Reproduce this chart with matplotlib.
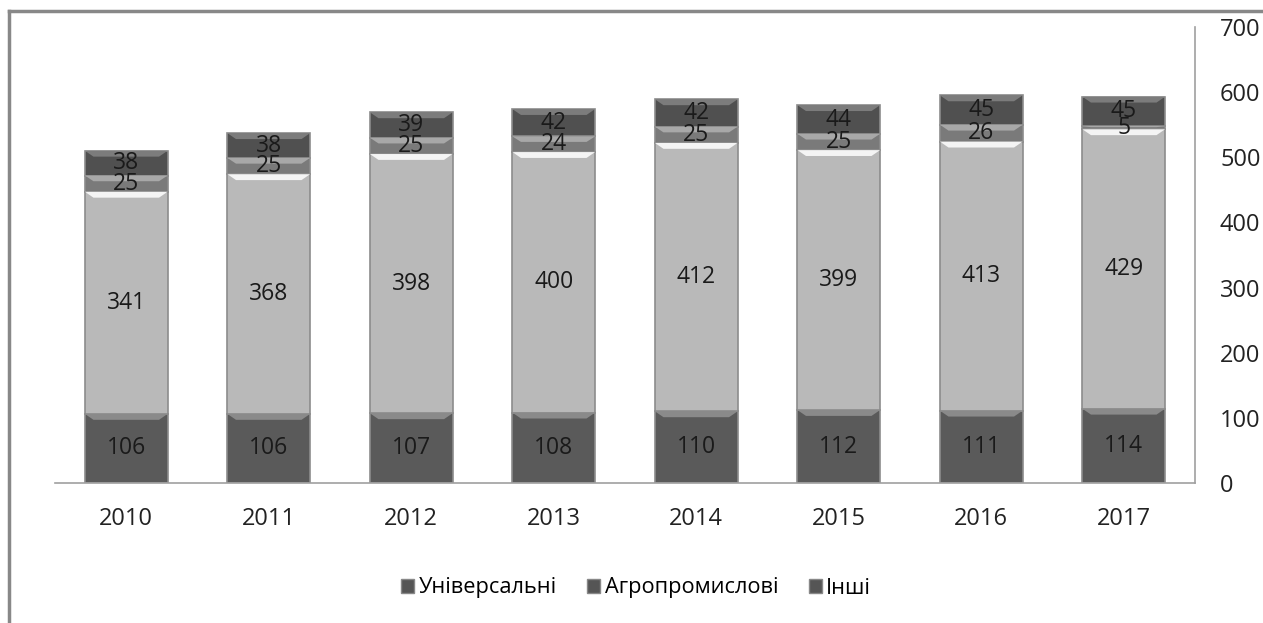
import numpy as np
import matplotlib
matplotlib.use('Agg')
import matplotlib.pyplot as plt
from matplotlib.patches import Patch, Polygon

plt.rcParams['font.family'] = ['Open Sans', 'DejaVu Sans']

# data
years = ['2010', '2011', '2012', '2013', '2014', '2015', '2016', '2017']
universal = [106, 106, 107, 108, 110, 112, 111, 114]
agro = [341, 368, 398, 400, 412, 399, 413, 429]
middle = [25, 25, 25, 24, 25, 25, 26, 5]
other = [38, 38, 39, 42, 42, 44, 45, 45]
legend_labels = ['Універсальні', 'Агропромислові', 'Інші']

series = [universal, agro, middle, other]
colors = ['#5a5a5a', '#b9b9b9', '#7a7a7a', '#505050']
bevel = ['#8a8a8a', '#f4f4f4', '#a8a8a8', '#7c7c7c']

fig = plt.figure(figsize=(12.63, 6.23), dpi=100)
ax = fig.add_axes([55/1263, 1-483/623, (1195-55)/1263, (483-27)/623])

x = np.arange(len(years))
width = 0.58
bottom = np.zeros(len(years))
for vals, col, bev in zip(series, colors, bevel):
    vals = np.array(vals, dtype=float)
    ax.bar(x, vals, width, bottom=bottom, color=col, edgecolor='#8c8c8c', linewidth=1.2, zorder=2)
    # bevel highlight along the top of each segment
    for xi, b, v in zip(x, bottom, vals):
        h = min(9.0, v * 0.35)
        inset = 0.06
        poly = Polygon([(xi - width/2, b + v), (xi + width/2, b + v),
                        (xi + width/2 - inset, b + v - h), (xi - width/2 + inset, b + v - h)],
                       closed=True, facecolor=bev, edgecolor='none', zorder=3)
        ax.add_patch(poly)
        ax.text(xi, b + v/2, str(int(v)), ha='center', va='center', fontsize=16.5, color='#1a1a1a', zorder=4)
    bottom += vals

ax.set_xlim(-0.5, len(years) - 0.5)
ax.set_ylim(0, 700)
ax.set_xticks(x)
ax.set_xticklabels(years, fontsize=17, color='#222222')
ax.set_yticks(range(0, 701, 100))
ax.yaxis.tick_right()
ax.tick_params(axis='y', labelsize=17, labelcolor='#222222', length=0, pad=18)
ax.tick_params(axis='x', length=0, pad=17)

for s in ['top', 'left']:
    ax.spines[s].set_visible(False)
ax.spines['bottom'].set_color('#a0a0a0')
ax.spines['right'].set_color('#a0a0a0')
ax.spines['bottom'].set_linewidth(1.2)
ax.spines['right'].set_linewidth(1.2)

handles = [Patch(facecolor='#555555', edgecolor='#888888') for _ in legend_labels]
fig.legend(handles, legend_labels, loc='center', bbox_to_anchor=(636/1263, 1-588/623), ncol=3,
           frameon=False, fontsize=15.7, handlelength=0.6, handleheight=0.6, handletextpad=0.2,
           columnspacing=1.4)

# outer chart border (left and top visible)
fig.add_artist(plt.Line2D([8.5/1263, 8.5/1263], [0, 1-11/623], color='#888888', linewidth=2.5))
fig.add_artist(plt.Line2D([8.5/1263, 1], [1-11/623, 1-11/623], color='#888888', linewidth=2.5))

fig.savefig('out.png', dpi=100)
